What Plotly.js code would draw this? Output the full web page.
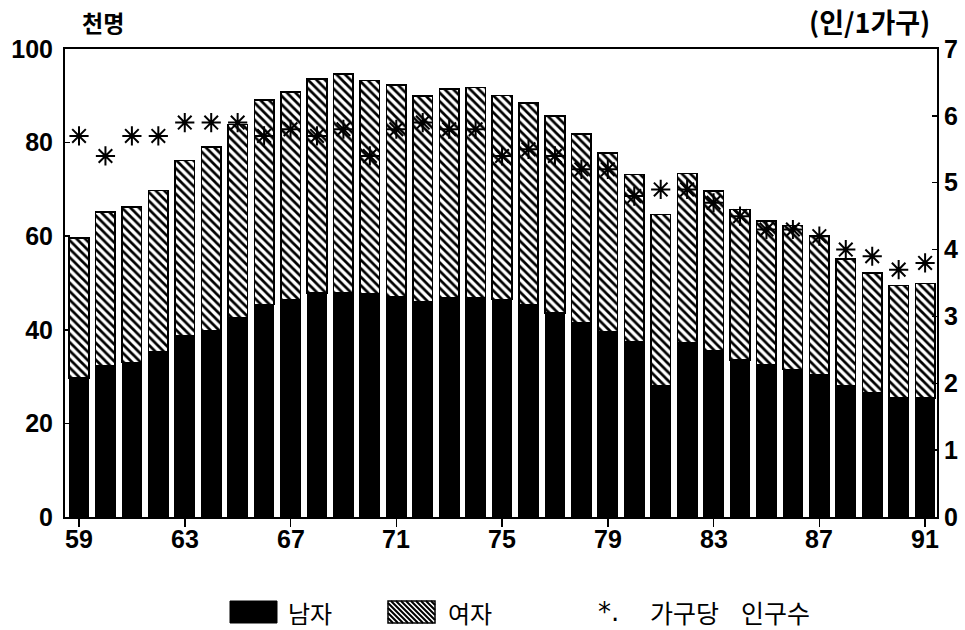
<!DOCTYPE html>
<html>
<head>
<meta charset="utf-8">
<script src="https://cdn.plot.ly/plotly-3.0.1.min.js"></script>
<style>html,body{margin:0;padding:0;background:#fff;}#chart{width:965px;height:630px;}</style>
</head>
<body>
<div id="chart"></div>
<script>
const years = [59,60,61,62,63,64,65,66,67,68,69,70,71,72,73,74,75,76,77,78,79,80,81,82,83,84,85,86,87,88,89,90,91];
const male = [29.7,32.4,33.0,35.3,38.8,39.7,42.6,45.4,46.5,47.9,47.9,47.6,47.1,45.9,46.8,46.9,46.5,45.3,43.6,41.5,39.6,37.4,28.1,37.2,35.6,33.6,32.5,31.5,30.4,28.0,26.5,25.4,25.4];
const female = [29.9,32.8,33.3,34.5,37.4,39.4,41.3,43.7,44.3,45.7,46.7,45.7,45.2,44.1,44.6,44.9,43.6,43.1,42.1,40.3,38.2,35.8,36.5,36.2,34.1,32.1,30.7,30.8,29.7,27.1,25.6,24.1,24.5];
const perHousehold = [5.7,5.4,5.7,5.7,5.9,5.9,5.9,5.7,5.8,5.7,5.8,5.4,5.8,5.9,5.8,5.8,5.4,5.5,5.4,5.2,5.2,4.8,4.9,4.9,4.7,4.5,4.3,4.3,4.2,4.0,3.9,3.7,3.8];
const xTicks = [59,63,67,71,75,79,83,87,91];
const leftTicks = [0,20,40,60,80,100];
const rightTicks = [0,1,2,3,4,5,6,7];
const seriesNames = ['남자','여자','가구당 인구수'];

const W = 965, H = 630;
const M = {l:65, r:28, t:49, b:113};
const PW = W - M.l - M.r, PH = H - M.t - M.b;
const px = x => (x - M.l) / PW;       // pixel -> paper x
const py = y => (H - M.b - y) / PH;   // pixel -> paper y

const tickFont = {family:'Liberation Sans, Arial, sans-serif', size:25, color:'#000', weight:'bold'};
const korFont = {family:'Noto Sans CJK KR, sans-serif', size:23, color:'#000', weight:'bold'};
const legFont = {family:'Noto Sans CJK KR, sans-serif', size:24, color:'#000'};

const traces = [
  {type:'bar', x:years, y:male, name:seriesNames[0], width:0.74,
   marker:{color:'#000', line:{color:'#000', width:1.2}}},
  {type:'bar', x:years, y:female, name:seriesNames[1], width:0.74,
   marker:{color:'#fff', line:{color:'#000', width:1.6},
     pattern:{shape:'\\', fgcolor:'#000', bgcolor:'#fff', size:6, solidity:0.45}}},
  {type:'scatter', mode:'markers', x:years, y:perHousehold, name:seriesNames[2], yaxis:'y2',
   marker:{symbol:'asterisk-open', size:16, color:'#000', line:{color:'#000', width:2}}}
];

// legend decorations (drawn manually to match the large legend keys)
const shapes = [];
const leg = {y0:601, y1:623, yc:612, blackX:[230,277], hatchX:[388,435]};
shapes.push({type:'rect', xref:'paper', yref:'paper', x0:px(leg.blackX[0]), x1:px(leg.blackX[1]),
  y0:py(leg.y1), y1:py(leg.y0), fillcolor:'#000', line:{color:'#000', width:1}});
shapes.push({type:'rect', xref:'paper', yref:'paper', x0:px(leg.hatchX[0]), x1:px(leg.hatchX[1]),
  y0:py(leg.y1), y1:py(leg.y0), fillcolor:'#fff', line:{color:'#000', width:1.5}});
(function(){
  const x0 = leg.hatchX[0], x1 = leg.hatchX[1], y0 = leg.y0, y1 = leg.y1;
  let path = '';
  for (let c = x0 - (y1 - y0); c <= x1; c += 5) {
    let sx = c, sy = y0;
    if (sx < x0) { sy = y0 + (x0 - sx); sx = x0; }
    let ex = c + (y1 - y0), ey = y1;
    if (ex > x1) { ey = y1 - (ex - x1); ex = x1; }
    if (sy >= y1 || sx >= x1) continue;
    path += 'M' + px(sx) + ',' + py(sy) + 'L' + px(ex) + ',' + py(ey);
  }
  shapes.push({type:'path', xref:'paper', yref:'paper', path:path, line:{color:'#000', width:2}});
})();

const annotations = [
  {text:'천명', xref:'paper', yref:'paper', x:px(80), y:py(22), xanchor:'left', yanchor:'middle', showarrow:false, font:korFont},
  {text:'(인/1가구)', xref:'paper', yref:'paper', x:px(932), y:py(22), xanchor:'right', yanchor:'middle', showarrow:false,
    font:Object.assign({}, korFont, {size:27})},
  {text:seriesNames[0], xref:'paper', yref:'paper', x:px(286), y:py(leg.yc), xanchor:'left', yanchor:'middle', showarrow:false, font:legFont},
  {text:seriesNames[1], xref:'paper', yref:'paper', x:px(446), y:py(leg.yc), xanchor:'left', yanchor:'middle', showarrow:false, font:legFont},
  {text:'*.', xref:'paper', yref:'paper', x:px(596), y:py(leg.yc), xanchor:'left', yanchor:'middle', showarrow:false,
    font:{family:'DejaVu Sans, sans-serif', size:26, color:'#000'}},
  {text:seriesNames[2].split(' ')[0], xref:'paper', yref:'paper', x:px(648), y:py(leg.yc), xanchor:'left', yanchor:'middle', showarrow:false,
    font:Object.assign({}, legFont, {size:25})},
  {text:seriesNames[2].split(' ')[1], xref:'paper', yref:'paper', x:px(739), y:py(leg.yc), xanchor:'left', yanchor:'middle', showarrow:false,
    font:Object.assign({}, legFont, {size:25})}
];
// x tick labels, placed close under the axis as in the reference
xTicks.forEach(v => annotations.push({text:String(v), xref:'x', yref:'paper', x:v, y:py(523), xanchor:'center', yanchor:'top',
  showarrow:false, font:tickFont}));

const layout = {
  width:W, height:H,
  margin:M,
  paper_bgcolor:'#fff', plot_bgcolor:'#fff',
  barmode:'stack',
  showlegend:false,
  xaxis:{range:[58.47,91.45], tickvals:xTicks, showticklabels:false,
    ticks:'outside', ticklen:8, tickwidth:1.5, tickcolor:'#000',
    showline:true, linecolor:'#000', linewidth:2, mirror:true,
    showgrid:false, zeroline:false},
  yaxis:{range:[0,100], tickvals:leftTicks, ticks:'inside', ticklen:5, tickwidth:1.5, tickcolor:'#000',
    showline:true, linecolor:'#000', linewidth:2, showgrid:false, zeroline:false, tickfont:tickFont,
    ticklabelstandoff:5},
  yaxis2:{range:[0,7], tickvals:rightTicks, overlaying:'y', side:'right', ticks:'inside', ticklen:5, tickwidth:1.5, tickcolor:'#000',
    showline:true, linecolor:'#000', linewidth:2, showgrid:false, zeroline:false, tickfont:tickFont},
  shapes:shapes,
  annotations:annotations
};

Plotly.newPlot('chart', traces, layout, {displayModeBar:false, staticPlot:true});
</script>
</body>
</html>
